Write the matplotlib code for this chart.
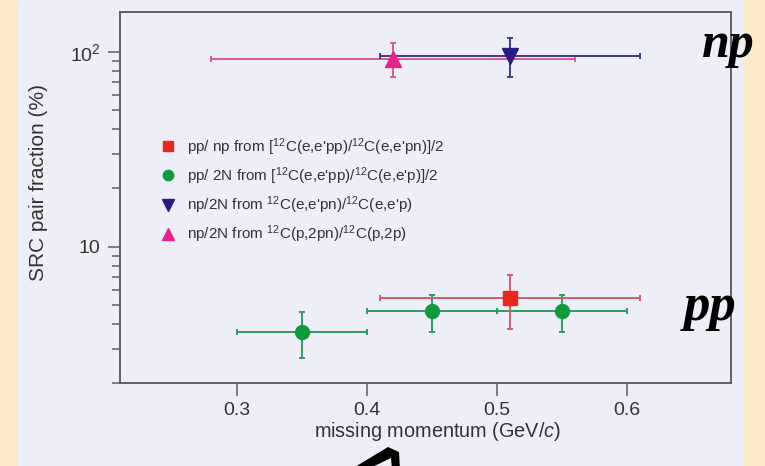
import matplotlib
matplotlib.use("Agg")
import matplotlib.pyplot as plt
from matplotlib import font_manager
from matplotlib.lines import Line2D
from matplotlib.patches import Rectangle, Polygon

# ── data ──────────────────────────────────────────────────────────────────
PPNP_X=[0.51]; PPNP_Y=[5.45]; PPNP_LO=[3.78]; PPNP_HI=[7.16]; PPNP_XLO=[0.41]; PPNP_XHI=[0.61]
PP2N_X=[0.35,0.45,0.55]; PP2N_Y=[3.65,4.68,4.68]; PP2N_LO=[2.68,3.65,3.65]; PP2N_HI=[4.62,5.65,5.65]
PP2N_XLO=[0.30,0.40,0.50]; PP2N_XHI=[0.40,0.50,0.60]
NPE_X=[0.51]; NPE_Y=[95.0]; NPE_LO=[74.0]; NPE_HI=[118.0]; NPE_XLO=[0.41]; NPE_XHI=[0.61]
NPP_X=[0.42]; NPP_Y=[92.0]; NPP_LO=[74.0]; NPP_HI=[111.0]; NPP_XLO=[0.28]; NPP_XHI=[0.56]
LABELS=["pp/ np from [$^{12}$C(e,e'pp)/$^{12}$C(e,e'pn)]/2",
        "pp/ 2N from [$^{12}$C(e,e'pp)/$^{12}$C(e,e'p)]/2",
        "np/2N from $^{12}$C(e,e'pn)/$^{12}$C(e,e'p)",
        "np/2N from $^{12}$C(p,2pn)/$^{12}$C(p,2p)"]
XTICKS=[0.3,0.4,0.5,0.6]; XTICKLABELS=["0.3","0.4","0.5","0.6"]
YTICKS=[10,100]; YTICKLABELS=["10","$10^2$"]

PANEL="#eeeef8"; BEIGE="#fbebc9"; INK="#333333"; SPINE="#5e5e66"
RED="#e8281c"; RED_E="#dc5a68"
GRN="#0f9a3c"; GRN_E="#2d9a68"
NAV="#2a1a86"; NAV_E="#3e3c86"
MAG="#e4268a"; MAG_E="#d85a92"

names={f.name for f in font_manager.fontManager.ttflist}
NARROW="Liberation Sans Narrow" if "Liberation Sans Narrow" in names else "Liberation Sans"
plt.rcParams.update({"font.family":["Liberation Sans","DejaVu Sans"],
    "mathtext.fontset":"custom","mathtext.rm":"Liberation Sans",
    "mathtext.it":"Liberation Sans:italic","mathtext.bf":"Liberation Sans:bold"})

W,H=765,466
fig=plt.figure(figsize=(W/100,H/100),dpi=100,facecolor=BEIGE)
fig.add_artist(Rectangle((18/W,0),(742-18)/W,1,transform=fig.transFigure,color=PANEL,zorder=0))

ax=fig.add_axes([120/W,(H-383)/H,(731-120)/W,(383-12)/H])
ax.set_facecolor(PANEL)
ax.set_yscale("log")
ax.set_xlim(0.21,0.68); ax.set_ylim(2.0,160)

def eb(x,y,lo,hi,xlo,xhi,mk,mc,ec,ms):
    yerr=[[b-a for a,b in zip(lo,y)],[b-a for a,b in zip(y,hi)]]
    xerr=[[b-a for a,b in zip(xlo,x)],[b-a for a,b in zip(x,xhi)]]
    ax.errorbar(x,y,yerr=yerr,xerr=xerr,fmt=mk,ms=ms,mfc=mc,mec=mc,ecolor=ec,
                elinewidth=1.4,capsize=2.5,capthick=1.4,zorder=3)

eb(PP2N_X,PP2N_Y,PP2N_LO,PP2N_HI,PP2N_XLO,PP2N_XHI,"o",GRN,GRN_E,10)
eb(PPNP_X,PPNP_Y,PPNP_LO,PPNP_HI,PPNP_XLO,PPNP_XHI,"s",RED,RED_E,10)
eb(NPP_X,NPP_Y,NPP_LO,NPP_HI,NPP_XLO,NPP_XHI,"^",MAG,MAG_E,11)
eb(NPE_X,NPE_Y,NPE_LO,NPE_HI,NPE_XLO,NPE_XHI,"v",NAV,NAV_E,11)

ax.set_xticks(XTICKS,XTICKLABELS)
ax.set_yticks(YTICKS,YTICKLABELS)
ax.tick_params(which="major",length=9,width=1.1,color=SPINE,labelcolor=INK,labelsize=14,pad=5)
ax.tick_params(which="minor",length=5.5,width=1.1,color=SPINE)
ax.tick_params(axis="y",which="minor",labelleft=False)
for sp in ax.spines.values(): sp.set_color(SPINE); sp.set_linewidth(1.4)

ax.set_xlabel("missing momentum (GeV/$c$)",fontsize=14.3,color=INK)
ax.xaxis.set_label_coords(0.519,-0.100)
ax.set_ylabel("SRC pair fraction (%)",fontsize=15,color=INK)
ax.yaxis.set_label_coords(-0.118,0.54)

handles=[Line2D([],[],ls="none",marker="s",ms=7,color=RED),
         Line2D([],[],ls="none",marker="o",ms=7.5,color=GRN),
         Line2D([],[],ls="none",marker="v",ms=8,color=NAV),
         Line2D([],[],ls="none",marker="^",ms=8,color=MAG)]
ax.legend(handles,LABELS,loc="upper left",bbox_to_anchor=((160-120)/611,(383-136)/371),
          frameon=False,prop={"family":NARROW,"size":11},labelcolor=INK,
          handlelength=1.0,handletextpad=0.75,labelspacing=0.5,borderpad=0,borderaxespad=0)

# big labels on the right edge
fig.text(702/W,1-57/H,"np",fontsize=36,fontweight="bold",style="italic",
         family=["Liberation Serif","DejaVu Serif"],va="baseline",ha="left")
fig.text(684/W,1-320/H,"pp",fontsize=38,fontweight="bold",style="italic",
         family=["Liberation Serif","DejaVu Serif"],va="baseline",ha="left")

# arrow fragment at the bottom
pts=[(350,470),(388,447),(399,452),(400,470),(392,470),(391,458),(366,470)]
fig.add_artist(Polygon([(x/W,1-y/H) for x,y in pts],closed=True,transform=fig.transFigure,
                       color="black",lw=0))

fig.savefig("out.png",dpi=100,facecolor=BEIGE)
